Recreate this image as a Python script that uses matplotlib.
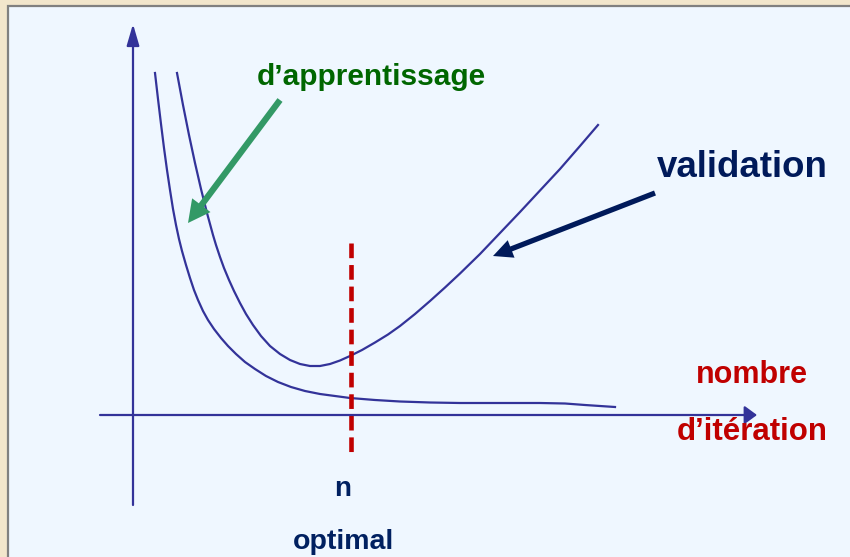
import matplotlib
matplotlib.use("Agg")
import matplotlib.pyplot as plt
from matplotlib.patches import Rectangle

# ---- data (iterations, error) in arbitrary units (no ticks on the chart) ----
train_x = [22, 25, 28, 31, 34, 37, 40, 43, 46, 49, 53, 57, 61, 65, 70, 75, 81, 88,
           95, 103, 112, 122, 133, 145, 158, 172, 187, 202, 217, 242, 267, 297,
           327, 367, 407, 432, 452, 467, 482]
train_y = [342, 316, 291, 267, 245, 225, 206, 190, 176, 164, 150, 137, 125, 115,
           104, 95, 86, 77, 69, 61, 53, 46, 39, 33, 28, 24, 21, 19, 17, 15, 13.5,
           12.5, 12, 12, 12, 11.5, 10, 9, 8]

valid_x = [44, 47, 50, 53, 56, 59, 62, 65, 68, 71, 74, 77, 80, 83, 87, 91, 96, 101,
           107, 113, 120, 128, 137, 147, 157, 167, 177, 187, 197, 207, 217, 229,
           242, 255, 267, 282, 297, 312, 327, 347, 367, 387, 407, 427, 447, 465]
valid_y = [342, 326, 310, 295, 280, 266, 252, 239, 226, 214, 202, 191, 180, 170,
           158, 147, 135, 124, 112, 101, 90, 79, 69, 61, 55, 51, 49, 49, 51, 54.5,
           59, 65, 72.5, 80.5, 89, 101, 114, 127.5, 141.5, 161, 182, 203, 224.5,
           246, 269, 290]

n_optimal = 218

label_train = "d\u2019apprentissage"
label_valid = "validation"
label_xaxis = ["nombre", "d\u2019it\u00e9ration"]
label_nopt = ["n", "optimal"]

# ---- figure ----
W, H, DPI = 850, 557, 100
plt.rcParams["font.family"] = ["Liberation Sans", "DejaVu Sans"]
fig = plt.figure(figsize=(W / DPI, H / DPI), dpi=DPI, facecolor="#f2e6cc")

# inner light panel
panel = Rectangle((8 / W, -0.05), 1.1, (H - 6) / H + 0.05,
                  transform=fig.transFigure, facecolor="#eff7ff",
                  edgecolor="#808080", linewidth=1.6, zorder=-10)
fig.patches.append(panel)

ax = fig.add_axes([0, 0, 1, 1], zorder=5)
ax.patch.set_visible(False)
ax.set_xlim(-133, 717)
ax.set_ylim(-142, 415)
ax.axis("off")

curve_col = "#333399"

# axes with arrows
ax.annotate("", xy=(0, 391), xytext=(0, -90),
            arrowprops=dict(arrowstyle="-|>,head_length=1.3,head_width=0.38",
                            mutation_scale=10, color=curve_col, lw=1.6,
                            shrinkA=0, shrinkB=0))
ax.annotate("", xy=(624, 0), xytext=(-33, 0),
            arrowprops=dict(arrowstyle="-|>,head_length=0.75,head_width=0.55",
                            mutation_scale=10, color=curve_col, lw=1.6,
                            shrinkA=0, shrinkB=0))

# curves
ax.plot(train_x, train_y, color=curve_col, lw=1.6, solid_joinstyle="round")
ax.plot(valid_x, valid_y, color=curve_col, lw=1.6, solid_joinstyle="round")

# optimal n line
ax.plot([n_optimal, n_optimal], [172, -37], color="#c00000", lw=3.3,
        dashes=(3.2, 1.5), solid_capstyle="butt")

# arrows to curves
ax.annotate("", xy=(55, 192), xytext=(147, 315),
            arrowprops=dict(arrowstyle="simple,head_length=1.6,head_width=1.65,tail_width=0.45",
                            mutation_scale=10, fc="#339966", ec="none", lw=0,
                            shrinkA=0, shrinkB=0))
ax.annotate("", xy=(360, 159), xytext=(522, 222),
            arrowprops=dict(arrowstyle="simple,head_length=1.4,head_width=1.35,tail_width=0.38",
                            mutation_scale=10, fc="#001a5a", ec="none", lw=0,
                            shrinkA=0, shrinkB=0))

# texts
ax.text(238, 330, label_train, color="#006600", fontsize=21.5, fontweight="bold",
        ha="center", va="baseline")
ax.text(609, 238, label_valid, color="#001a5a", fontsize=26.4, fontweight="bold",
        ha="center", va="baseline")
ax.text(619, 32, label_xaxis[0], color="#c00000", fontsize=22, fontweight="bold",
        ha="center", va="baseline")
ax.text(619, -25, label_xaxis[1], color="#c00000", fontsize=22.5, fontweight="bold",
        ha="center", va="baseline")
ax.text(210, -81, label_nopt[0], color="#002060", fontsize=20, fontweight="bold",
        ha="center", va="baseline")
ax.text(210, -134, label_nopt[1], color="#002060", fontsize=20.5, fontweight="bold",
        ha="center", va="baseline")

fig.savefig("out.png", dpi=DPI, facecolor=fig.get_facecolor())
